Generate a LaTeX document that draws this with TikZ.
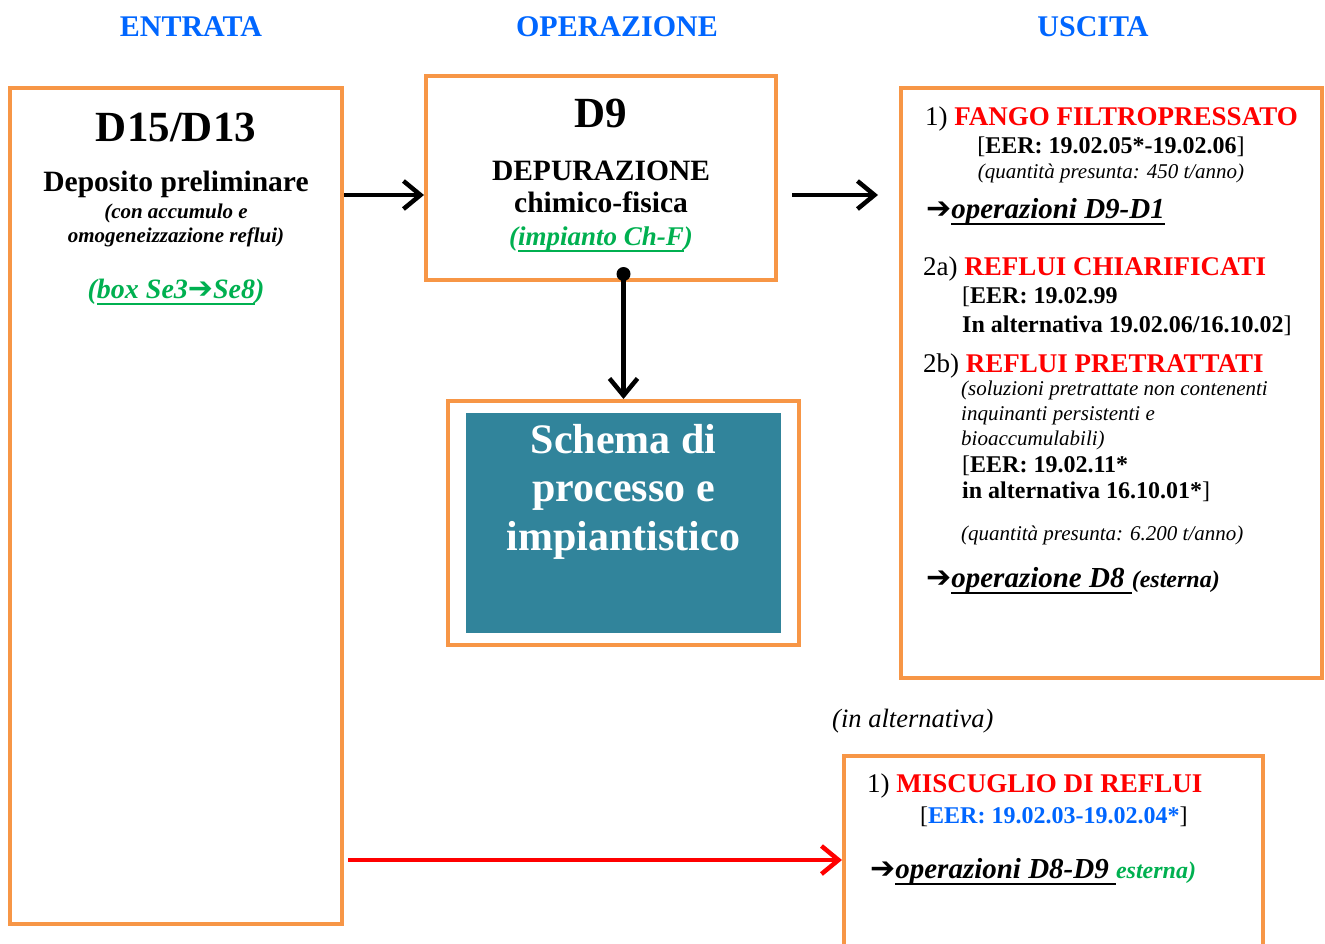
\documentclass[tikz,border=0pt]{standalone}
\usepackage{fontspec}
\setmainfont{Liberation Serif}
\newfontfamily\arrowfont{DejaVu Sans}
\usetikzlibrary{positioning,arrows.meta}

\definecolor{boxorange}{HTML}{F79646}
\definecolor{headblue}{HTML}{0066FF}
\definecolor{plantgreen}{HTML}{00B050}
\definecolor{schemateal}{HTML}{31849B}

\newcommand{\fsz}[2]{\fontsize{#1}{#2}\selectfont}
\newcommand{\harrow}{{\arrowfont\fontsize{30}{30}\selectfont ➔}}
\newcommand{\uln}[1]{\setbox0\hbox{#1}\rlap{\rule[-7pt]{\wd0}{2.5pt}}\box0}

\begin{document}
\begin{tikzpicture}[
    x=1pt, y=-1pt,
    box/.style={draw=boxorange, line width=4pt, inner sep=0pt},
    flow/.style={-{Straight Barb[length=17pt, width=28pt]}, line width=4.5pt},
    txt/.style={inner sep=0pt, anchor=base},
    txtl/.style={inner sep=0pt, anchor=base west, align=left},
    head/.style={txt, font=\fsz{30}{34}\bfseries, text=headblue},
    opcode/.style={txt, font=\fsz{43}{48}\bfseries},
    lbl/.style={txt, font=\fsz{29.5}{32}\bfseries},
    remark/.style={txt, align=center, font=\fsz{21}{24}\bfseries\itshape},
    plant/.style={txt, font=\fsz{27}{30}\bfseries\itshape, text=plantgreen},
    outitem/.style={txtl, font=\fsz{27}{30}},
    eer/.style={txtl, font=\fsz{24}{29}\bfseries},
    qty/.style={txtl, font=\fsz{21}{25}\itshape},
    dest/.style={txtl, font=\fsz{29}{32}\bfseries\itshape}
]
\clip (0,0) rectangle (1325,943);

% column headers
\node[head] (hin)  at (191,36) {ENTRATA};
\node[head] (hop)  at (617,36) {OPERAZIONE};
\node[head] (hout) at (1093,36) {USCITA};

% boxes
\node[box, minimum width=332, minimum height=836] (entrata) at (176,506) {};
\node[box, minimum width=350, minimum height=204] (d9) at (601,178) {};
\node[box, minimum width=351, minimum height=244] (schema) at (623.5,523) {};
\node[fill=schemateal, minimum width=315, minimum height=220, inner sep=0pt] (schemafill) at (schema.center) {};
\node[box, minimum width=421, minimum height=590] (uscita) at (1111.5,383) {};
\node[box, minimum width=419, minimum height=208] (miscuglio) at (1053.5,860) {};

% entrata (multi-line nodes sit on their last baseline)
\node[opcode] (d15) at (176,141) {D15/D13};
\node[lbl] (deposito) at (176,191) {Deposito preliminare};
\node[remark] (accumulo) at (176,242) {(con accumulo e\\omogeneizzazione reflui)};
\node[plant, font=\fsz{28}{30}\bfseries\itshape] (boxse) at (176,298) {(\uln{box Se3{\color{plantgreen}\harrow}Se8})};

% operazione
\node[opcode] (d9lbl) at (601,127) {D9};
\node[lbl] (depur) at (601,180) {DEPURAZIONE};
\node[lbl] (chimico) at (601,212) {chimico-fisica};
\node[plant] (chf) at (601,245) {(\uln{impianto Ch-F})};
\node[txt, align=center, text=white, font=\fsz{42}{48.5}\bfseries] (schematxt) at (623.5,550)
    {Schema di\\processo e\\impiantistico};

% uscita
\node[outitem] (fango) at (925,125) {1) \textcolor{red}{\bfseries FANGO FILTROPRESSATO}};
\node[eer, anchor=base] (fangoeer) at (1111,153) {\textmd{[}EER: 19.02.05*-19.02.06\textmd{]}};
\node[qty, anchor=base] (fangoqty) at (1111,178) {(quantità presunta: 450 t/anno)};
\node[dest] (fangodest) at (926,218) {\harrow\uln{operazioni D9-D1}};

\node[outitem] (chiari) at (923,275) {2a) \textcolor{red}{\bfseries REFLUI CHIARIFICATI}};
\node[eer] (chiarieer) at (962,332) {\textmd{[}EER: 19.02.99\\In alternativa 19.02.06/16.10.02\textmd{]}};

\node[outitem] (pretr) at (923,372) {2b) \textcolor{red}{\bfseries REFLUI PRETRATTATI}};
\node[qty] (pretrnote) at (961,445) {(soluzioni pretrattate non contenenti\\inquinanti persistenti e\\bioaccumulabili)};
\node[eer, font=\fsz{24}{26}\bfseries] (pretreer) at (962,498) {\textmd{[}EER: 19.02.11*\\in alternativa 16.10.01*\textmd{]}};
\node[qty] (pretrqty) at (961,540) {(quantità presunta: 6.200 t/anno)};
\node[dest] (pretrdest) at (926,587) {\harrow\uln{operazione D8 }{\fsz{24}{26}(esterna)}};

% alternativa
\node[txtl, font=\fsz{26.5}{30}\itshape] (alt) at (832,727) {(in alternativa)};
\node[outitem] (misc) at (867,792) {1) \textcolor{red}{\bfseries MISCUGLIO DI REFLUI}};
\node[eer] (misceer) at (920,823) {\textmd{[}\textcolor{headblue}{EER: 19.02.03-19.02.04*}\textmd{]}};
\node[dest] (miscdest) at (870,878) {\harrow\uln{operazioni D8-D9 }{\fsz{24}{26}\color{plantgreen}esterna)}};

% connectors
\draw[flow] ([yshift=-17pt]d9.west -| entrata.east) -- ([yshift=-17pt]d9.west);
\draw[flow, shorten <=14pt, shorten >=21pt] ([yshift=-17pt]d9.east) -- ([yshift=-17pt]d9.east -| uscita.west);
\coordinate (tap) at ([yshift=8pt]d9.south -| schema.north);
\fill (tap) circle (7pt);
\draw[flow] (tap) -- (schema.north);
\draw[flow, red, shorten <=4pt] (miscuglio.west -| entrata.east) -- (miscuglio.west);

\end{tikzpicture}
\end{document}
